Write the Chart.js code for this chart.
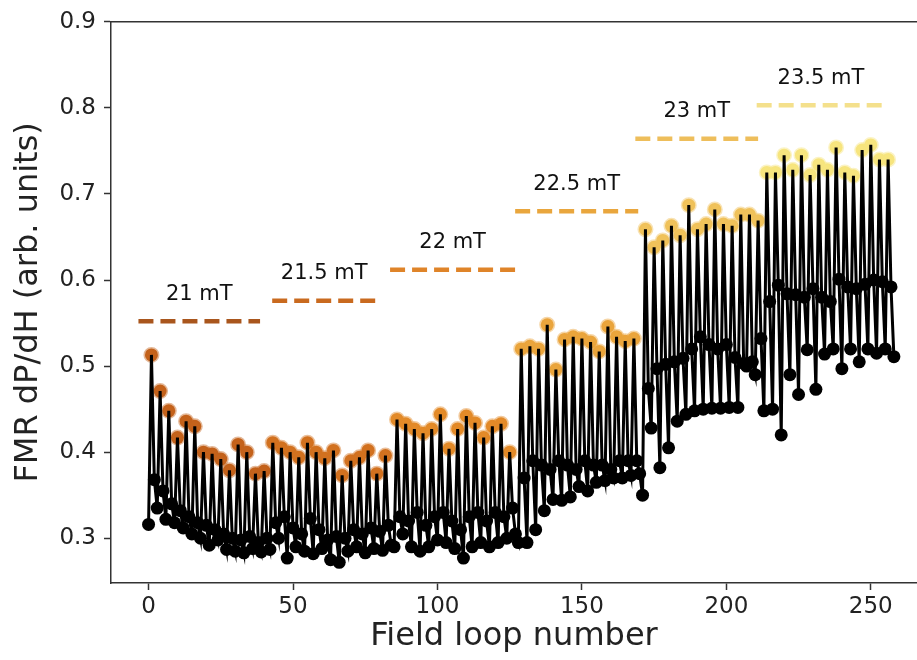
<!DOCTYPE html>
<html>
<head>
<meta charset="utf-8">
<script src="https://cdn.jsdelivr.net/npm/chart.js@4.4.1/dist/chart.umd.min.js"></script>
<style>
  html, body { margin: 0; padding: 0; background: #fff; }
</style>
</head>
<body>
<canvas id="fmrChart" width="917" height="660"></canvas>
<script>
const fieldLabels = ['21 mT', '21.5 mT', '22 mT', '22.5 mT', '23 mT', '23.5 mT'];

// FMR signal per field step (peak / mid / low cycles)
const seg21 = [0.316,
    0.513, 0.368, 0.335, 0.471, 0.355, 0.322, 0.448, 0.340, 0.318,
    0.417, 0.332, 0.312, 0.436, 0.325, 0.305, 0.430, 0.318, 0.300,
    0.400, 0.315, 0.292, 0.398, 0.310, 0.298, 0.392, 0.305, 0.287,
    0.379, 0.300, 0.285, 0.409, 0.298, 0.283, 0.400, 0.302, 0.288,
    0.375, 0.295, 0.284, 0.378, 0.300, 0.287];
const seg215 = [
    0.411, 0.318, 0.300, 0.405, 0.325, 0.277, 0.400, 0.312, 0.290,
    0.394, 0.305, 0.285, 0.411, 0.323, 0.282, 0.400, 0.310, 0.288,
    0.393, 0.298, 0.275, 0.402, 0.302, 0.272, 0.373, 0.300, 0.285,
    0.390, 0.310, 0.290, 0.394, 0.305, 0.283, 0.402, 0.312, 0.288,
    0.375, 0.308, 0.286, 0.396, 0.315, 0.292, 0.290];
const seg22 = [
    0.438, 0.325, 0.305, 0.433, 0.320, 0.290, 0.427, 0.330, 0.285,
    0.422, 0.315, 0.290, 0.427, 0.325, 0.298, 0.444, 0.330, 0.295,
    0.404, 0.320, 0.288, 0.427, 0.310, 0.277, 0.442, 0.325, 0.290,
    0.434, 0.330, 0.295, 0.417, 0.320, 0.290, 0.430, 0.330, 0.295,
    0.433, 0.325, 0.300, 0.400, 0.335, 0.305, 0.295];
const seg225 = [
    0.520, 0.370, 0.295, 0.523, 0.390, 0.310, 0.520, 0.385, 0.332,
    0.548, 0.380, 0.345, 0.496, 0.390, 0.344, 0.531, 0.385, 0.348,
    0.534, 0.380, 0.360, 0.532, 0.390, 0.355, 0.528, 0.385, 0.365,
    0.517, 0.385, 0.367, 0.546, 0.380, 0.370, 0.534, 0.390, 0.370,
    0.529, 0.390, 0.373, 0.532, 0.390, 0.375, 0.350];
const seg23 = [
    0.659, 0.474, 0.428, 0.638, 0.497, 0.382, 0.646, 0.502, 0.405,
    0.663, 0.505, 0.436, 0.652, 0.509, 0.444, 0.687, 0.520, 0.448,
    0.659, 0.534, 0.450, 0.665, 0.525, 0.451, 0.682, 0.520, 0.451,
    0.665, 0.525, 0.452, 0.663, 0.510, 0.452, 0.676, 0.503, 0.500,
    0.676, 0.505, 0.490, 0.669, 0.532, 0.448];
const seg235 = [
    0.725, 0.575, 0.450, 0.725, 0.594, 0.420, 0.745, 0.584, 0.490,
    0.728, 0.583, 0.467, 0.745, 0.580, 0.519, 0.722, 0.590, 0.473,
    0.734, 0.580, 0.514, 0.728, 0.575, 0.520, 0.754, 0.601, 0.497,
    0.725, 0.592, 0.520, 0.721, 0.590, 0.505, 0.751, 0.595, 0.520,
    0.757, 0.600, 0.515, 0.740, 0.598, 0.520, 0.740, 0.592, 0.511];

// dashed field-level markers: level and loop range
const dashLevels = [0.552, 0.576, 0.612, 0.680, 0.764, 0.803];
const dashFrom = [-3.5, 42.8, 83.6, 126.9, 168.5, 210.5];
const dashTo = [38.6, 78.8, 126.9, 169.5, 211, 255];

const xTicks = [0, 50, 100, 150, 200, 250];
const yTicks = [0.3, 0.4, 0.5, 0.6, 0.7, 0.8, 0.9];

const peakColors = ['#c4621b', '#d2711f', '#e38a28', '#eaa53c', '#f0c25a', '#f7e57e'];
const dashColors = ['#a9561d', '#c96a1f', '#df8429', '#e9a63d', '#eebe5b', '#f4e08c'];

const segments = [seg21, seg215, seg22, seg225, seg23, seg235];
const fmr = [].concat(...segments);
const segOf = [];
segments.forEach((s, k) => s.forEach(() => segOf.push(k)));
const isPeak = fmr.map((v, i) =>
    v > (i > 0 ? fmr[i - 1] : -1) && v > (i < fmr.length - 1 ? fmr[i + 1] : -1));
const points = fmr.map((v, i) => ({ x: i, y: v }));

function withAlpha(hex, a) {
    const n = parseInt(hex.slice(1), 16);
    return `rgba(${n >> 16}, ${(n >> 8) & 255}, ${n & 255}, ${a})`;
}

const dashSets = dashLevels.map((lvl, k) => ({
    type: 'line',
    data: [{ x: dashFrom[k], y: lvl }, { x: dashTo[k], y: lvl }],
    borderColor: dashColors[k],
    borderWidth: 4.5,
    borderDash: [15, 7],
    borderCapStyle: 'butt',
    pointRadius: 0,
    order: 2
}));

const fieldText = {
    id: 'fieldText',
    afterDatasetsDraw(chart) {
        const { ctx, scales: { x, y }, chartArea } = chart;
        ctx.save();
        ctx.font = '21px "DejaVu Sans"';
        ctx.fillStyle = '#111';
        ctx.textAlign = 'center';
        ctx.textBaseline = 'middle';
        fieldLabels.forEach((t, k) => {
            const px = x.getPixelForValue((dashFrom[k] + dashTo[k]) / 2);
            const py = y.getPixelForValue(dashLevels[k]) - 27;
            ctx.fillText(t, px, py);
        });
        // top spine
        ctx.strokeStyle = '#333';
        ctx.lineWidth = 1.5;
        ctx.beginPath();
        ctx.moveTo(chartArea.left, chartArea.top);
        ctx.lineTo(chartArea.right, chartArea.top);
        ctx.stroke();
        ctx.restore();
    }
};

const tickFont = { family: 'DejaVu Sans', size: 23 };

new Chart(document.getElementById('fmrChart'), {
    type: 'scatter',
    data: {
        datasets: [
            {
                type: 'line',
                data: points,
                borderColor: '#000',
                borderWidth: 3,
                pointRadius: 0,
                tension: 0,
                order: 0
            },
            {
                type: 'scatter',
                data: points,
                pointRadius: 6.5,
                pointBackgroundColor: c => isPeak[c.dataIndex] ? peakColors[segOf[c.dataIndex]] : '#000',
                pointBorderColor: c => isPeak[c.dataIndex] ? withAlpha(peakColors[segOf[c.dataIndex]], 0.45) : '#000',
                pointBorderWidth: c => isPeak[c.dataIndex] ? 3 : 0,
                order: 1
            },
            ...dashSets
        ]
    },
    options: {
        responsive: false,
        devicePixelRatio: 1,
        animation: false,
        layout: { autoPadding: false, padding: { top: 18, right: 0, left: 0, bottom: 0 } },
        plugins: {
            legend: { display: false },
            tooltip: { enabled: false }
        },
        scales: {
            x: {
                type: 'linear',
                min: -13,
                max: 266,
                afterBuildTicks: s => { s.ticks = xTicks.map(v => ({ value: v })); },
                afterFit: s => { s.height = 77; s.paddingLeft = 0; s.paddingRight = 0; },
                grid: { drawOnChartArea: false, tickLength: 7, tickColor: '#333', tickWidth: 1.5 },
                border: { display: true, color: '#333', width: 1.5 },
                ticks: { font: tickFont, color: '#222', padding: 3, maxRotation: 0 },
                title: {
                    display: true,
                    text: 'Field loop number',
                    font: { family: 'DejaVu Sans', size: 32 },
                    color: '#222',
                    padding: { top: 0, bottom: 4 }
                }
            },
            y: {
                min: 0.248,
                max: 0.9,
                afterBuildTicks: s => { s.ticks = yTicks.map(v => ({ value: v })); },
                afterFit: s => { s.width = 111; },
                grid: { drawOnChartArea: false, tickLength: 7, tickColor: '#333', tickWidth: 1.5 },
                border: { display: true, color: '#333', width: 1.5 },
                ticks: { font: tickFont, color: '#222', padding: 8, callback: v => v.toFixed(1) },
                title: {
                    display: true,
                    text: 'FMR dP/dH (arb. units)',
                    font: { family: 'DejaVu Sans', size: 32 },
                    color: '#222',
                    padding: { top: 9, bottom: 0 }
                }
            }
        }
    },
    plugins: [fieldText]
});
</script>
</body>
</html>
